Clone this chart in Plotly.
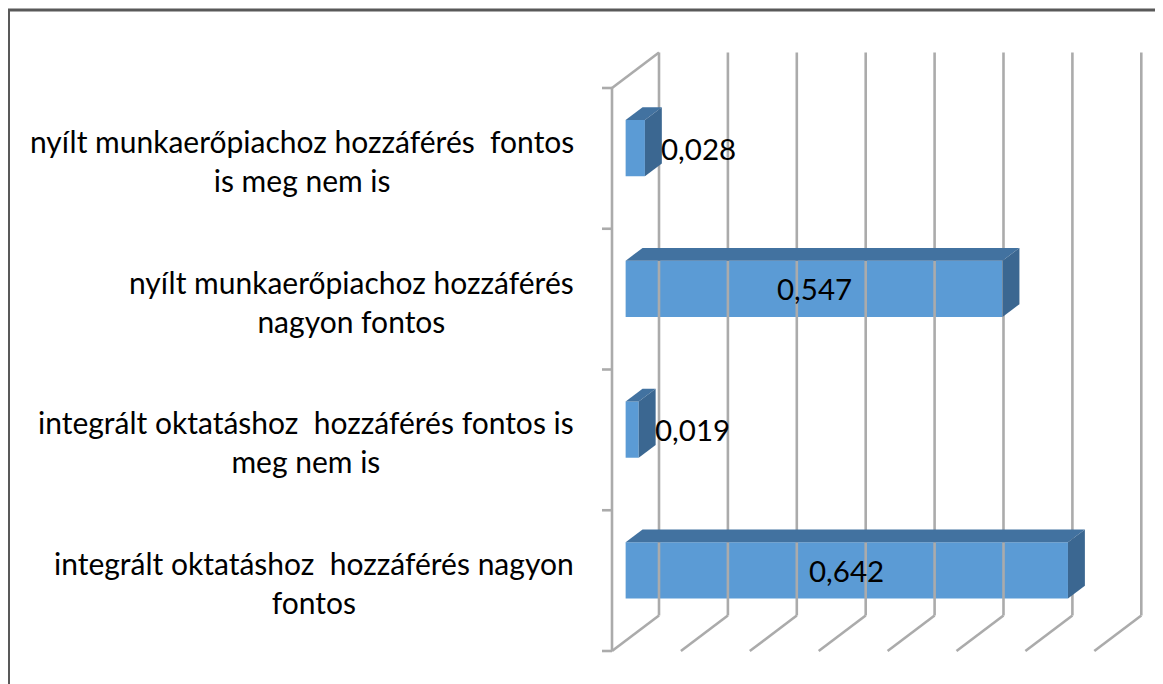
import plotly.graph_objects as go

# data
categories = [
    "integrált oktatáshoz  hozzáférés nagyon<br>fontos",
    "integrált oktatáshoz  hozzáférés fontos is<br>meg nem is",
    "nyílt munkaerőpiachoz hozzáférés<br>nagyon fontos",
    "nyílt munkaerőpiachoz hozzáférés  fontos<br>is meg nem is",
]
values = [0.642, 0.019, 0.547, 0.028]
value_labels = ["0,642", "0,019", "0,547", "0,028"]
x_ticks = [0, 0.1, 0.2, 0.3, 0.4, 0.5, 0.6, 0.7]

# layout of the fake 3d box (pixels inside the figure; page adds 8px body margin)
W, H = 1163, 684
X0PX, PX_X = 604, 689.0      # value 0 on front plane, px per unit
Y0PX, PX_Y = 643, 140.75     # bottom of category axis, px per category
DX = 47 / PX_X               # depth offset
DY = 35.5 / PX_Y
F1, F2 = 0.29, 0.65          # bar front / back depth
BW = 0.40                    # bar thickness
FONT = "Lato"
GRID = "#ABABAB"

front = "#5B9BD5"
top_c = "#4272A0"
side_c = "#3B6791"

ncat = len(categories)
fig = go.Figure()

# back wall grid lines + floor lines
gx, gy = [], []
for v in x_ticks:
    gx += [v + DX, v + DX, None, v, v + DX, None]
    gy += [-0.5 + DY, ncat - 0.5 + DY, None, -0.5, -0.5 + DY, None]
# left wall: front vertical, top edge, tick stubs
gx += [0, 0, None, 0, DX, None]
gy += [-0.5, ncat - 0.5, None, ncat - 0.5, ncat - 0.5 + DY, None]
for k in range(ncat + 1):
    gx += [-10 / PX_X, 0, None]
    gy += [k - 0.5, k - 0.5, None]
fig.add_trace(go.Scatter(x=gx, y=gy, mode="lines", line=dict(color=GRID, width=2.6),
                         hoverinfo="skip", showlegend=False))

# bars: top and side faces
for i, v in enumerate(values):
    yt = i + BW / 2
    yb = i - BW / 2
    fig.add_trace(go.Scatter(
        x=[F1 * DX, v + F1 * DX, v + F2 * DX, F2 * DX, F1 * DX],
        y=[yt + F1 * DY, yt + F1 * DY, yt + F2 * DY, yt + F2 * DY, yt + F1 * DY],
        fill="toself", fillcolor=top_c, mode="lines", line=dict(width=0),
        hoverinfo="skip", showlegend=False))
    fig.add_trace(go.Scatter(
        x=[v + F1 * DX, v + F2 * DX, v + F2 * DX, v + F1 * DX, v + F1 * DX],
        y=[yb + F1 * DY, yb + F2 * DY, yt + F2 * DY, yt + F1 * DY, yb + F1 * DY],
        fill="toself", fillcolor=side_c, mode="lines", line=dict(width=0),
        hoverinfo="skip", showlegend=False))

# front faces
fig.add_trace(go.Bar(
    orientation="h",
    x=values,
    y=[i + F1 * DY for i in range(ncat)],
    base=[F1 * DX] * ncat,
    width=BW,
    marker=dict(color=front, line=dict(width=0)),
    hoverinfo="skip", showlegend=False))

# value labels
for i, (v, t) in enumerate(zip(values, value_labels)):
    if v > 0.2:
        fig.add_annotation(x=F1 * DX + v / 2, y=i + F1 * DY, text=t, showarrow=False,
                           xanchor="center", yanchor="middle",
                           font=dict(family=FONT, size=29.5, color="black"))
    else:
        fig.add_annotation(x=v + F2 * DX, y=i + F1 * DY, text=t, showarrow=False,
                           xanchor="left", yanchor="middle", xshift=-3,
                           font=dict(family=FONT, size=29.5, color="black"))

# category labels
for i, c in enumerate(categories):
    fig.add_annotation(x=568 / W, xref="paper", y=i, text=c, showarrow=False,
                       xanchor="right", yanchor="middle", align="center", yshift=-2,
                       font=dict(family=FONT, size=30, color="black"))

# outer border
fig.add_shape(type="rect", xref="paper", yref="paper",
              x0=0.5 / W, x1=1.02, y0=-0.02, y1=1 - 2 / H,
              line=dict(color="#595959", width=3))

fig.update_layout(
    width=W, height=H,
    margin=dict(l=0, r=0, t=0, b=0),
    paper_bgcolor="white", plot_bgcolor="white",
    xaxis=dict(range=[-X0PX / PX_X, (W - X0PX) / PX_X], visible=False, fixedrange=True),
    yaxis=dict(range=[-0.5 - (H - Y0PX) / PX_Y, -0.5 + Y0PX / PX_Y], visible=False,
               fixedrange=True),
    font=dict(family=FONT),
)

fig.write_html("out.html", config={"displayModeBar": False})
